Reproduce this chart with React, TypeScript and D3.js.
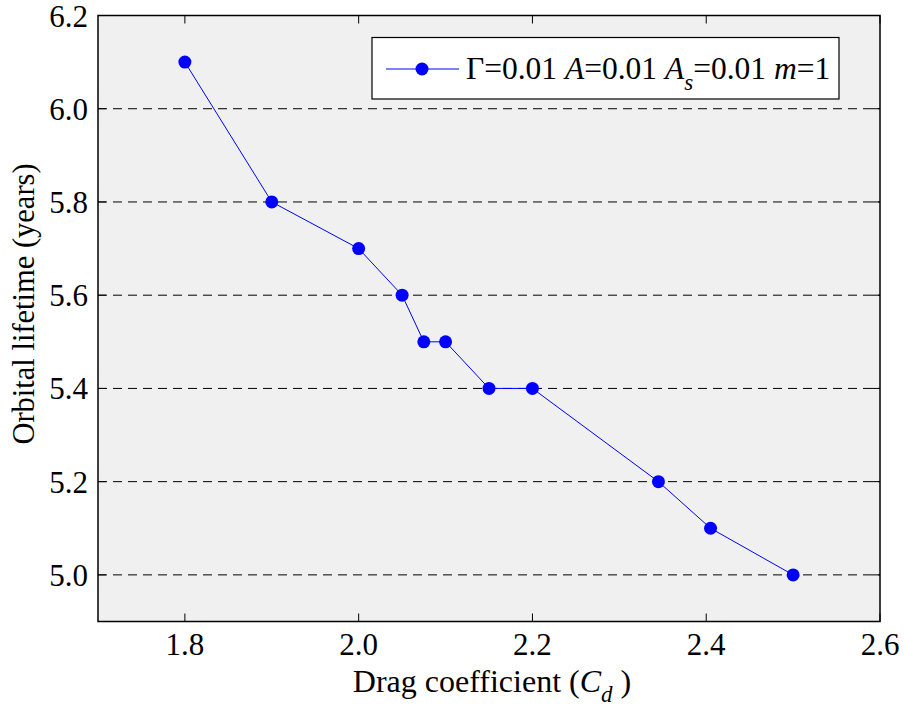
import React from "react";
import * as d3 from "d3";

const cd = [1.8, 1.9, 2.0, 2.05, 2.075, 2.1, 2.15, 2.2, 2.345, 2.405, 2.5];
const lifetime = [6.1, 5.8, 5.7, 5.6, 5.5, 5.5, 5.4, 5.4, 5.2, 5.1, 5.0];
const xTicks = [1.8, 2.0, 2.2, 2.4, 2.6];
const yTicks = [5.0, 5.2, 5.4, 5.6, 5.8, 6.0, 6.2];
const gridY = [5.0, 5.2, 5.4, 5.6, 5.8, 6.0];

const W = 904, H = 708;
const L = 98, R = 880, T = 15.5, B = 621.5;
const FONT = "'Liberation Serif', 'Times New Roman', serif";

export default function App() {
  const x = d3.scaleLinear().domain([1.7, 2.6]).range([L, R]);
  const y = d3.scaleLinear().domain([4.9, 6.2]).range([B, T]);
  const pts = cd.map((c, i) => [x(c), y(lifetime[i])] as [number, number]);
  const line = d3.line()(pts) || "";
  const blue = "#0000ff";
  return (
    <svg width={W} height={H} style={{ position: "absolute", left: 0, top: 0, background: "#fff" }} fontFamily={FONT}>
      <rect x={L} y={T} width={R - L} height={B - T} fill="#f0f0f0" />
      {gridY.map((v) => (
        <line key={v} x1={L} x2={R} y1={y(v)} y2={y(v)} stroke="#000" strokeWidth={1} strokeDasharray="9,6" />
      ))}
      {xTicks.map((v) => (
        <g key={v}>
          <line x1={x(v)} x2={x(v)} y1={B} y2={B - 8} stroke="#000" />
          <line x1={x(v)} x2={x(v)} y1={T} y2={T + 8} stroke="#000" />
          <text x={x(v)} y={655} textAnchor="middle" fontSize={31}>{v.toFixed(1)}</text>
        </g>
      ))}
      {yTicks.map((v) => (
        <g key={v}>
          <line x1={L} x2={L + 8} y1={y(v)} y2={y(v)} stroke="#000" />
          <line x1={R} x2={R - 8} y1={y(v)} y2={y(v)} stroke="#000" />
          <text x={88} y={y(v) + 11} textAnchor="end" fontSize={31}>{v.toFixed(1)}</text>
        </g>
      ))}
      <rect x={L} y={T} width={R - L} height={B - T} fill="none" stroke="#000" strokeWidth={1.5} />
      <path d={line} fill="none" stroke={blue} strokeWidth={1} />
      {pts.map((p, i) => (
        <circle key={i} cx={p[0]} cy={p[1]} r={6.5} fill={blue} />
      ))}
      <g>
        <rect x={372} y={37.5} width={467} height={61.5} fill="#fff" stroke="#000" strokeWidth={1.2} />
        <line x1={386} x2={459} y1={69} y2={69} stroke={blue} strokeWidth={1} />
        <circle cx={422} cy={69} r={6.5} fill={blue} />
        <text x={466} y={79} fontSize={31.5}>
          <tspan>Γ=0.01 </tspan>
          <tspan fontStyle="italic">A</tspan>
          <tspan>=0.01 </tspan>
          <tspan fontStyle="italic">A</tspan>
          <tspan fontStyle="italic" fontSize={23} dy={11}>s</tspan>
          <tspan dy={-11}>=0.01 </tspan>
          <tspan fontStyle="italic">m</tspan>
          <tspan>=1</tspan>
        </text>
      </g>
      <text x={492} y={692} textAnchor="middle" fontSize={32}>
        <tspan>Drag coefficient (</tspan>
        <tspan fontStyle="italic">C</tspan>
        <tspan fontStyle="italic" fontSize={23} dy={10}>d</tspan>
        <tspan dy={-10}> )</tspan>
      </text>
      <text transform="translate(34,304) rotate(-90)" textAnchor="middle" fontSize={30.5}>
        Orbital lifetime (years)
      </text>
    </svg>
  );
}
